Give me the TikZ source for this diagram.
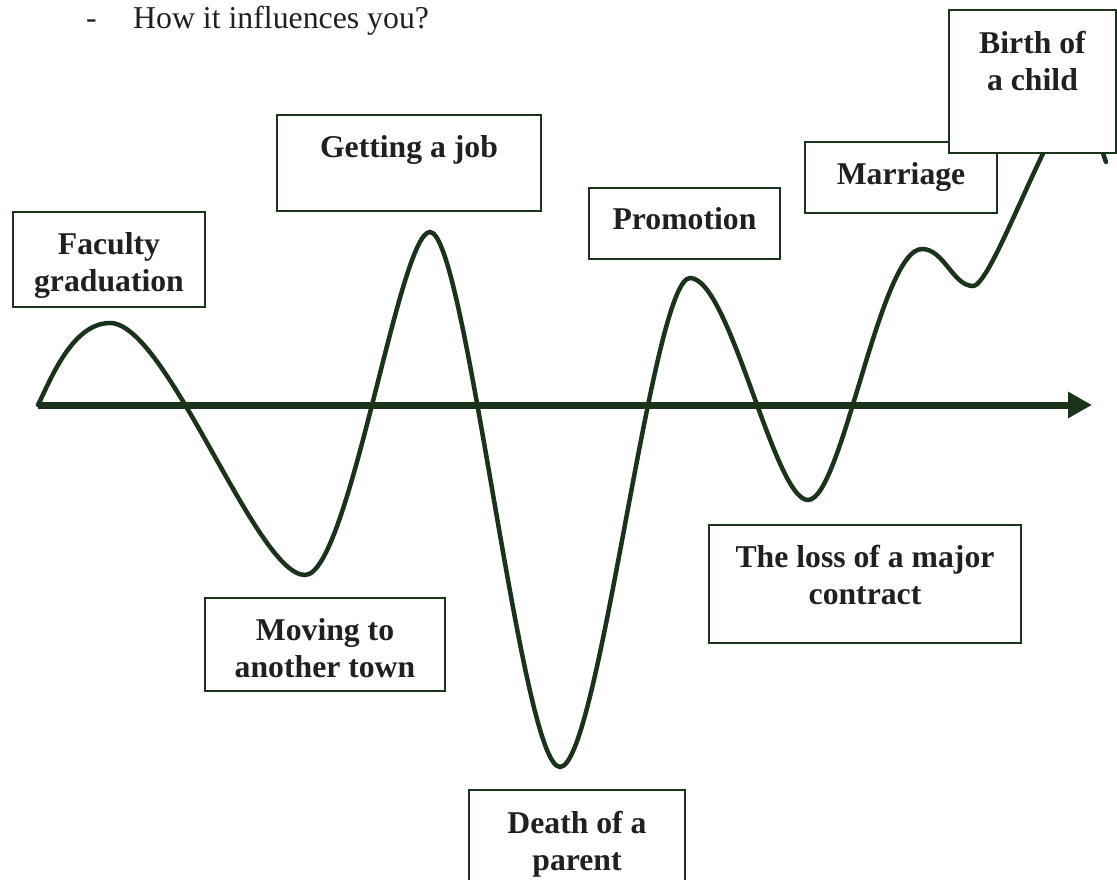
\documentclass[tikz,border=0pt]{standalone}
\usepackage{fontspec}
\setmainfont{Liberation Serif}
\usetikzlibrary{arrows.meta}
\definecolor{lifegreen}{RGB}{26,52,28}
\definecolor{inkgray}{RGB}{35,31,32}
\tikzset{
  evbox/.style={draw=lifegreen, line width=2pt, fill=white},
  evtext/.style={font=\bfseries\fontsize{31.7}{37}\selectfont, text=inkgray, align=center, anchor=north, inner sep=0pt},
  plaintext/.style={font=\fontsize{31.8}{37}\selectfont, text=inkgray, anchor=base west, inner sep=0pt},
}
\begin{document}
\begin{tikzpicture}[x=1pt, y=-1pt]
    \clip (0,0) rectangle (1117,880);

    % Question
    \node[plaintext] (dash) at (86,29) {-};
    \node[plaintext] (question) at (133,29) {How it influences you?};

    % Time axis
    \coordinate (origin) at (38,405);
    \coordinate (later) at (1092,405);
    \draw[lifegreen, line width=7pt, -{Triangle[length=24pt,width=25pt]}] (origin) -- (later);

    % Life curve
    \draw[lifegreen, line width=4.5pt, line cap=round] (38,405)
        .. controls +(12,-24) and +(-38,0) .. (110,323)
        .. controls +(57,0) and +(-49,0) .. (305,575)
        .. controls +(44,0) and +(-31,0) .. (430,232)
        .. controls +(36,0) and +(-39,0) .. (560,767)
        .. controls +(39,0) and +(-38,0) .. (690,278)
        .. controls +(40,0) and +(-34,0) .. (808,500)
        .. controls +(34,0) and +(-42,0) .. (922,249)
        .. controls +(22,0) and +(-20,0) .. (973,286)
        .. controls +(20,0) and +(-25,0) .. (1080,100)
        .. controls +(15,0) and +(-8,-20) .. (1106,162);

    % Events
    \foreach \xa/\ya/\xb/\yb/\ty/\nm/\txt in {
        13/212/205/307/232/grad/{Faculty\\graduation},
        277/115/541/211/135/job/{Getting a job},
        589/188/780/259/207/promo/{Promotion},
        805/142/997/213/162/marriage/{Marriage},
        205/598/445/691/618/moving/{Moving to\\another town},
        709/525/1021/643/545/loss/{The loss of a major\\contract},
        469/790/685/890/811/death/{Death of a\\parent},
        949/10/1116/153/31/birth/{Birth of\\a child}} {
        \draw[evbox] (\xa,\ya) rectangle (\xb,\yb);
        \node[evtext] (\nm) at ({(\xa+\xb)/2},\ty) {\txt};
    }
\end{tikzpicture}
\end{document}
